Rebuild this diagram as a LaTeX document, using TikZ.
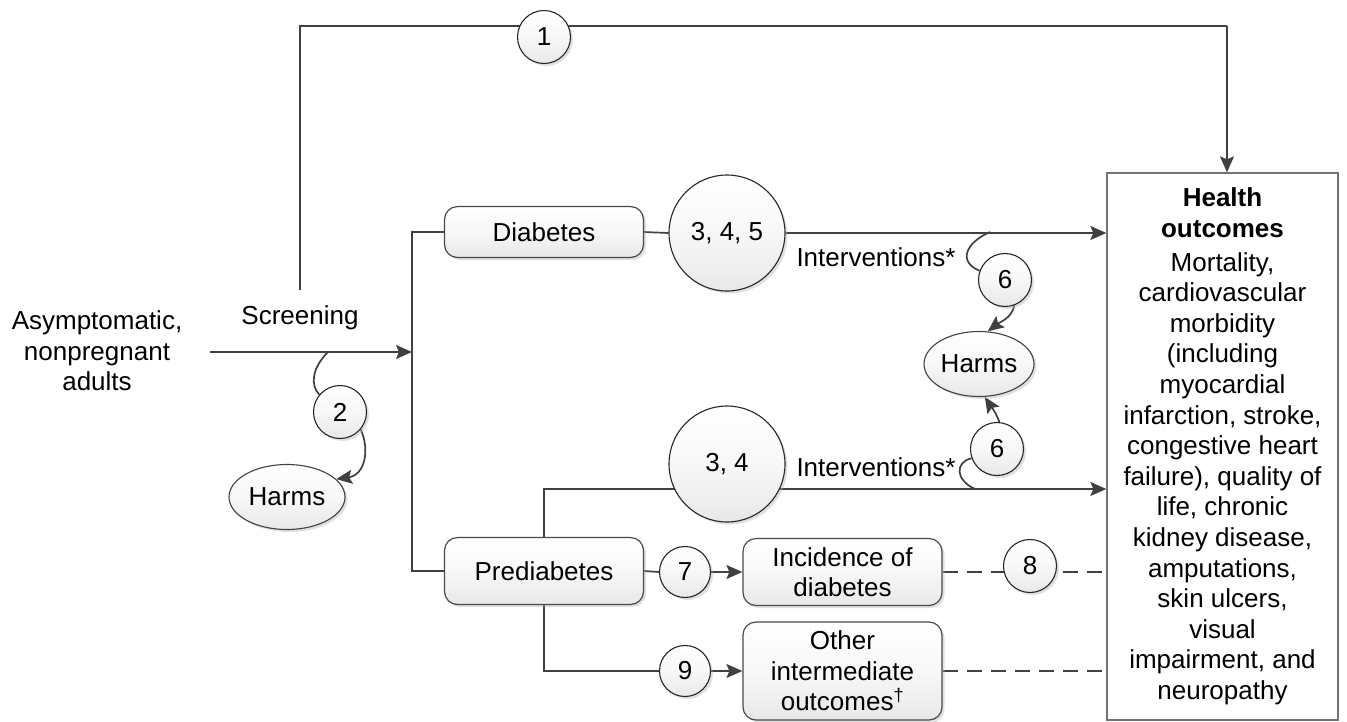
\documentclass[tikz,border=0pt]{standalone}
\usepackage{fontspec}
\setmainfont{Liberation Sans}
\usetikzlibrary{arrows.meta,shapes.geometric,shadows}
\definecolor{ln}{HTML}{404040}
\definecolor{bd}{HTML}{4A4A4A}
\pgfdeclarelayer{bg}
\pgfsetlayers{bg,main}
\begin{document}
\begin{tikzpicture}[x=1pt,y=-1pt,
  every node/.style={font=\fontsize{26}{30.6}\selectfont},
  conn/.style={draw=ln,line width=1.7pt},
  arr/.style={conn,-{Stealth[length=16pt,width=14pt,inset=3pt]}},
  dashline/.style={conn,dash pattern=on 15pt off 9pt},
  shd/.style={top color=white,bottom color=black!9,middle color=white!97!black},
  sh/.style={drop shadow={shadow xshift=2.5pt,shadow yshift=-2.5pt,fill=black!30,opacity=0.4}},
  rbox/.style={draw=bd,line width=1.2pt,rounded corners=13pt,shd,sh,minimum width=199pt,align=center,inner sep=0pt},
  num/.style={circle,draw=black!85,line width=1.1pt,shd,sh,inner sep=0pt,minimum size=53pt},
  harm/.style={ellipse,draw=black!75,line width=1.1pt,shd,sh,inner sep=0pt,minimum width=116pt,minimum height=65pt},
  lbl/.style={inner sep=0pt,align=center}
]
\useasboundingbox (0,0) rectangle (1347,721);

% nodes
\node[lbl] (pop) at (97,351) {Asymptomatic,\\nonpregnant\\adults};
\node[lbl] (scr) at (300,318) {Screening};
\node[rbox,minimum height=51pt] (dia) at (544,232) {Diabetes};
\node[rbox,minimum height=67pt] (pre) at (544,571) {Prediabetes};
\node[num,minimum size=116pt] (c345) at (727,233) {3, 4, 5};
\node[num,minimum size=116pt] (c34) at (727,464) {3, 4};
\node[lbl] (int1) at (876,257) {Interventions*};
\node[lbl] (int2) at (876,467) {Interventions*};
\node[num] (c1) at (544,37) {1};
\node[num] (c2) at (340,412) {2};
\node[harm] (hm1) at (287,497) {Harms};
\node[num] (c6a) at (1005,280) {6};
\node[harm,minimum width=110pt] (hm2) at (979,364) {Harms};
\node[num] (c6b) at (997,449) {6};
\node[num,minimum size=51pt] (c7) at (685,572) {7};
\node[rbox,minimum height=67pt] (inc) at (842.5,572) {Incidence of\\diabetes};
\node[num] (c8) at (1030,566) {8};
\node[num,minimum size=51pt] (c9) at (685,671) {9};
\node[rbox,minimum height=98pt] (oth) at (842.5,671) {Other\\intermediate\\outcomes\textsuperscript{†}};
\node[draw=black!55,line width=1.3pt,fill=white,minimum width=231pt,minimum height=547pt,inner sep=0pt,align=center] (ho) at (1222.5,446.5)
  {\textbf{Health}\\\textbf{outcomes}\\[3pt]Mortality,\\cardiovascular\\morbidity\\(including\\myocardial\\infarction, stroke,\\congestive heart\\failure), quality of\\life, chronic\\kidney disease,\\amputations,\\skin ulcers,\\visual\\impairment, and\\neuropathy};

% coordinates
\coordinate (s0) at (210,352);
\coordinate (bus) at (412,352);
\coordinate (busT) at (412,232);
\coordinate (busB) at (412,571);
\coordinate (up0) at (300,290);
\coordinate (upL) at (300,26);
\coordinate (upR) at (1227,26);
\coordinate (pk) at (0,489);
\coordinate (pk2) at (0,671);
\coordinate (m1) at (328,352);
\coordinate (h1) at (990,232);
\coordinate (h2) at (975,489);

\begin{pgfonlayer}{bg}
\draw[arr] (s0) -- (bus);
\draw[conn] (dia.west) -- (busT) -- (busB) -- (pre.west);
\draw[conn] (up0) -- (upL) -- (upR);
\draw[arr] (upR) -- (upR |- ho.north);
\draw[conn] (dia.east) -- (c345.west);
\draw[arr] (c345.east) -- (ho.west |- c345.east);
\draw[arr] (pre.north) -- (pre.north |- pk) -- (ho.west |- pk);
\draw[conn] (pre.east) -- (c7.west);
\draw[arr] (c7.east) -- (inc.west);
\draw[dashline] (inc.east) -- (ho.west |- inc.east);
\draw[conn] (pre.south) -- (pre.south |- pk2) -- (c9.west);
\draw[arr] (c9.east) -- (oth.west);
\draw[dashline] (oth.east) -- (ho.west |- oth.east);
% harms curves
\draw[conn] (m1) .. controls (312,368) and (310,385) .. (c2.140);
\draw[arr] (c2.-40) .. controls (370,450) and (365,475) .. (hm1.20);
\draw[conn] (h1) .. controls (965,243) and (958,262) .. (c6a.160);
\draw[arr] (c6a.-70) .. controls (1012,318) and (1000,322) .. (hm2.75);
\draw[conn] (h2) .. controls (955,480) and (955,462) .. (c6b.200);
\draw[arr] (c6b.85) .. controls (996,412) and (990,405) .. (hm2.-80);
\end{pgfonlayer}
\end{tikzpicture}
\end{document}
